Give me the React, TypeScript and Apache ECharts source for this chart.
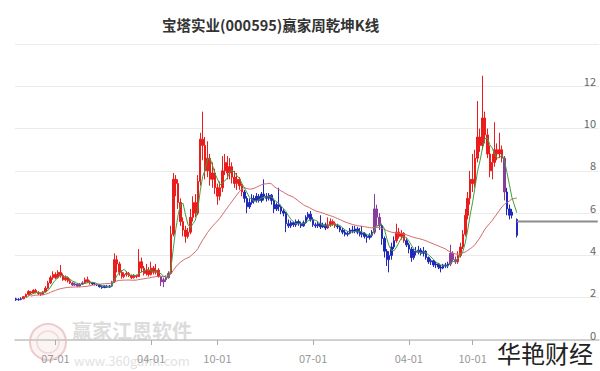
import React, { useEffect, useRef } from "react";
import * as echarts from "echarts";

const TITLE = "宝塔实业(000595)赢家周乾坤K线";
const WATERMARK_CN = "赢家江恩软件";
const WATERMARK_URL = "www.360gann.com";
const CORNER_TEXT = "华艳财经";

// weekly categories
const START_DATE = "2021-03-12";
const WEEK_COUNT = 238;
const xTickDates = ["2021-07-01", "2022-04-01", "2022-10-01", "2023-07-01", "2024-04-01", "2024-10-01"];
const Y_MIN = 0;
const Y_MAX = 14;
const Y_STEP = 2;

// [open, close, low, high] per week (null = no trading week)
const ohlc: (number[] | null)[] = [
  [1.95, 1.9, 1.85, 2.0], [1.9, 1.92, 1.86, 1.98], [1.92, 1.95, 1.88, 2.02],
  [1.95, 2.05, 1.93, 2.08], [2.05, 2.15, 2.02, 2.2], [2.15, 2.3, 2.1, 2.35], [2.28, 2.22, 2.15, 2.32],
  [2.22, 2.35, 2.18, 2.4], [2.35, 2.25, 2.2, 2.42], [2.25, 2.2, 2.12, 2.3], [2.2, 2.15, 2.08, 2.25],
  [2.15, 2.28, 2.12, 2.32], [2.28, 2.45, 2.25, 2.55], [2.45, 2.7, 2.4, 2.8], [2.7, 2.95, 2.65, 3.05],
  [2.95, 3.1, 2.85, 3.25], [3.1, 2.95, 2.88, 3.2], [2.95, 3.2, 2.9, 3.3], [3.2, 3.05, 2.95, 3.55],
  [3.05, 2.85, 2.8, 3.15], [2.85, 2.95, 2.78, 3.05], [2.95, 2.8, 2.72, 3.0], [2.8, 2.7, 2.65, 2.88],
  [2.7, 2.6, 2.55, 2.75], [2.6, 2.65, 2.55, 2.72], [2.65, 2.55, 2.5, 2.7], [2.55, 2.65, 2.5, 2.7],
  [2.65, 2.7, 2.6, 2.78], [2.7, 2.85, 2.65, 2.95], [2.85, 2.75, 2.7, 3.0], [2.75, 2.7, 2.62, 2.82],
  [2.7, 2.65, 2.6, 2.72], [2.65, 2.62, 2.58, 2.7], [2.62, 2.6, 2.55, 2.66], [2.6, 2.52, 2.48, 2.63],
  [2.52, 2.48, 2.42, 2.56], [2.48, 2.55, 2.45, 2.58], [2.55, 2.5, 2.46, 2.6], [2.5, 2.55, 2.48, 2.6],
  [2.55, 2.75, 2.5, 2.8], [2.75, 3.8, 2.7, 4.1], [3.8, 3.6, 3.2, 4.0], [3.6, 3.2, 3.05, 3.7],
  [3.2, 3.0, 2.9, 3.3], [3.0, 3.1, 2.92, 3.2], [3.1, 3.15, 3.0, 3.25], [3.15, 3.05, 2.98, 3.22],
  [3.05, 2.95, 2.88, 3.1], [2.95, 3.05, 2.9, 3.12], [3.05, 3.0, 2.92, 3.1], [3.0, 3.7, 2.98, 4.3],
  [3.7, 3.4, 3.2, 3.9], [3.4, 3.15, 3.05, 3.5], [3.15, 3.3, 3.05, 3.6], [3.3, 3.1, 3.0, 3.45],
  [3.1, 3.4, 3.05, 3.7], [3.4, 3.2, 3.1, 3.5], [3.2, 3.3, 3.1, 3.6], [3.3, 3.0, 2.95, 3.4],
  [3.0, 2.75, 2.55, 3.05], [2.75, 2.85, 2.5, 2.95], [2.85, 2.95, 2.75, 3.05], [2.95, 3.15, 2.9, 3.25],
  [3.15, 5.0, 3.1, 5.4], [5.0, 7.6, 4.9, 7.9], [7.6, 7.4, 6.8, 7.8], [7.4, 6.5, 6.2, 7.6],
  [6.5, 5.6, 5.4, 6.7], [5.6, 5.2, 4.9, 5.8], [5.2, 4.9, 4.6, 5.4], [4.9, 5.1, 4.8, 5.3],
  [5.1, 5.8, 5.0, 6.2], [5.8, 6.5, 5.6, 6.8], [6.5, 6.0, 5.8, 6.9], [6.0, 7.5, 5.9, 7.8],
  [7.5, 9.5, 7.3, 9.8], [9.5, 9.2, 8.5, 10.8], [9.2, 8.0, 7.6, 9.6], [8.0, 8.6, 7.7, 9.4],
  [8.6, 7.6, 7.3, 8.8], [7.6, 7.9, 7.2, 8.4], [7.9, 7.2, 6.9, 8.1], [7.2, 6.8, 6.4, 7.4],
  [6.8, 7.2, 6.6, 7.5], [7.2, 8.0, 7.0, 8.7], [8.0, 8.4, 7.8, 8.8], [8.4, 7.9, 7.6, 8.7],
  [7.9, 8.2, 7.6, 8.6], [8.2, 7.7, 7.4, 8.4], [7.7, 7.4, 7.2, 8.0], [7.4, 7.6, 7.1, 7.9],
  [7.6, 7.3, 7.1, 7.7], [7.3, 7.0, 6.8, 7.4], [7.0, 6.7, 6.5, 7.1], [6.7, 6.3, 6.0, 6.8],
  [6.3, 6.5, 6.2, 6.7], [6.5, 6.7, 6.4, 6.9], [6.7, 6.6, 6.45, 6.85], [6.6, 6.8, 6.5, 6.95],
  [6.8, 6.6, 6.5, 6.9], [6.6, 6.9, 6.5, 7.0], [6.9, 6.8, 6.6, 7.6], [6.8, 6.7, 6.55, 6.95],
  [6.7, 6.85, 6.6, 6.95], [6.85, 6.6, 6.4, 6.9], [6.6, 6.2, 6.0, 6.7], [6.2, 6.4, 6.1, 6.5],
  [6.4, 6.3, 6.1, 7.2], [6.3, 6.1, 5.95, 6.4], [6.1, 6.0, 5.85, 6.2], [6.0, 5.5, 5.1, 6.05],
  [5.5, 5.4, 5.3, 5.7], [5.4, 5.55, 5.3, 5.65], [5.55, 5.45, 5.35, 5.6], [5.45, 5.6, 5.35, 5.7],
  [5.6, 5.5, 5.4, 5.7], [5.5, 5.4, 5.3, 5.6], [5.4, 5.55, 5.35, 5.65], [5.55, 5.8, 5.5, 5.9],
  [5.8, 5.95, 5.7, 6.05], [5.95, 5.7, 5.6, 6.1], [5.7, 5.45, 5.35, 5.8], [5.45, 5.4, 5.3, 5.55],
  [5.4, 5.5, 5.3, 5.6], [5.5, 5.35, 5.25, 5.9], [5.35, 5.45, 5.3, 5.55], [5.45, 5.3, 5.2, 5.55],
  [5.3, 5.45, 5.25, 5.8], [5.45, 5.6, 5.35, 5.75], [5.6, 5.5, 5.4, 5.7], [5.5, 5.4, 5.3, 5.6],
  [5.4, 5.35, 5.25, 5.5], [5.35, 5.2, 5.1, 5.4], [5.2, 5.1, 5.0, 5.3], [5.1, 5.0, 4.9, 5.2],
  [5.0, 5.05, 4.9, 5.15], [5.05, 5.2, 5.0, 5.3], [5.2, 5.15, 5.05, 5.4], [5.15, 5.25, 5.05, 5.4],
  [5.25, 5.1, 5.0, 5.35], [5.1, 5.0, 4.9, 5.3], [5.0, 5.05, 4.85, 5.4], [5.05, 4.9, 4.8, 5.1],
  [4.9, 4.85, 4.6, 5.0], [4.85, 4.95, 4.75, 5.05], [4.95, 5.1, 4.85, 5.2],
  [5.1, 6.2, 5.0, 6.9], [6.2, 5.8, 5.4, 6.4], [5.8, 5.4, 5.2, 6.0],
  [5.4, 4.8, 4.5, 5.5], [4.8, 4.2, 3.9, 4.9], [4.2, 3.8, 3.5, 4.3], [3.8, 4.0, 3.2, 4.2],
  [4.0, 4.4, 3.8, 4.6], [4.4, 4.7, 4.3, 4.9],
  [4.7, 5.1, 4.6, 5.5], [5.1, 4.9, 4.8, 5.3], [4.9, 5.05, 4.75, 5.2], [5.05, 4.7, 4.6, 5.1],
  [4.7, 4.5, 4.4, 4.8], [4.5, 4.3, 4.1, 4.6], [4.3, 3.9, 3.7, 4.4], [3.9, 4.2, 3.8, 4.3],
  [4.2, 4.15, 4.0, 4.4], [4.15, 4.25, 4.05, 4.45], [4.25, 4.1, 4.0, 4.35], [4.1, 4.2, 3.95, 4.4],
  [4.2, 3.9, 3.8, 4.25], [3.9, 3.7, 3.6, 3.95], [3.7, 3.75, 3.55, 3.85], [3.75, 3.55, 3.45, 3.8],
  [3.55, 3.6, 3.4, 3.7], [3.6, 3.45, 3.35, 3.65], [3.45, 3.4, 3.2, 3.55], [3.4, 3.55, 3.35, 3.6],
  [3.55, 3.5, 3.4, 3.65], [3.5, 3.6, 3.4, 3.7],
  [3.6, 4.1, 3.5, 4.5], [4.1, 3.8, 3.7, 4.2], [3.8, 3.7, 3.6, 3.95],
  [3.7, 4.0, 3.6, 4.2], [4.0, 4.4, 3.9, 4.6], [4.4, 5.0, 4.3, 5.2], [5.0, 5.9, 4.9, 6.2],
  [5.9, 6.7, 5.7, 7.0], [6.7, 7.6, 6.4, 8.0], [7.6, 7.4, 7.0, 8.8], [7.4, 8.6, 7.2, 9.0],
  [8.6, 9.6, 8.4, 11.3], [9.6, 9.2, 8.9, 10.0], [9.2, 10.5, 9.0, 12.5], [10.5, 9.7, 9.3, 10.8],
  [9.7, 8.8, 8.6, 10.0], [8.8, 8.0, 7.7, 9.2], [8.0, 8.4, 7.6, 8.8], [8.4, 9.0, 8.2, 10.3],
  [9.0, 8.8, 8.5, 9.3], [8.8, 9.0, 8.6, 9.8], [9.0, 8.6, 8.4, 9.2],
  [8.6, 7.0, 6.6, 8.7],
  [7.0, 6.2, 5.9, 7.2], [6.2, 5.9, 5.7, 6.4], [5.9, 6.05, 5.75, 6.2], null, [5.7, 4.95, 4.85, 5.75],
];

// trend state per stretch of weeks: [first index, state]
const trendSegments: [number, string][] = [
  [0, "down"], [3, "up"], [23, "mid"], [28, "up"], [31, "down"], [39, "mid"], [40, "up"],
  [59, "mid"], [63, "up"], [93, "down"], [127, "up"], [131, "down"], [146, "mid"], [149, "down"],
  [155, "up"], [159, "down"], [177, "mid"], [180, "up"], [199, "mid"], [200, "down"],
];

const MA_SHORT = 5;
const MA_LONG = 30;
const MA_LONG_FIRST = 6;
const LAST_LINE_VALUE = 5.6;
const LAST_LINE_FROM = 204;

const trendColors: Record<string, string> = { up: "#ea1c1c", down: "#1f28b8", mid: "#8a3c9c" };

function buildCategories(): string[] {
  const out: string[] = [];
  const d0 = new Date(START_DATE + "T00:00:00Z").getTime();
  for (let i = 0; i < WEEK_COUNT; i++) {
    out.push(new Date(d0 + i * 7 * 86400000).toISOString().slice(0, 10));
  }
  return out;
}

function trendAt(i: number): string {
  let s = trendSegments[0][1];
  for (const [start, st] of trendSegments) if (i >= start) s = st;
  return s;
}

function movingAverage(n: number, firstIndex: number): (number | string)[] {
  const closes: number[] = [];
  const out: (number | string)[] = [];
  ohlc.forEach((v, i) => {
    if (!v) {
      out.push("-");
      return;
    }
    closes.push(v[1]);
    if (i < firstIndex) {
      out.push("-");
      return;
    }
    const win = closes.slice(-n);
    out.push(+(win.reduce((a, b) => a + b, 0) / win.length).toFixed(3));
  });
  return out;
}

export default function App() {
  const ref = useRef<HTMLDivElement>(null);
  useEffect(() => {
    document.body.style.margin = "0";
    if (!ref.current) return;
    const chart = echarts.init(ref.current, undefined, { renderer: "svg" });
    const categories = buildCategories();
    const labelMap: Record<number, string> = {};
    xTickDates.forEach((t) => {
      const idx = categories.findIndex((c) => c >= t);
      if (idx >= 0) labelMap[idx] = t.slice(5);
    });
    const showIdx = (i: number) => labelMap[i] !== undefined;

    const candleData = ohlc.map((v, i) => {
      if (!v) return "-";
      const c = trendColors[trendAt(i)];
      return { value: v, itemStyle: { color: c, color0: c, borderColor: c, borderColor0: c } };
    });
    const maShort = movingAverage(MA_SHORT, MA_SHORT - 1);
    const maLong = movingAverage(MA_LONG, MA_LONG_FIRST);
    const lastLine = categories.map((_, i) => (i >= LAST_LINE_FROM ? LAST_LINE_VALUE : "-"));

    const font = "'Noto Sans CJK SC', 'Noto Sans', sans-serif";

    chart.setOption({
      animation: false,
      textStyle: { fontFamily: font },
      title: {
        text: TITLE,
        left: 157,
        top: 12,
        textStyle: { fontSize: 14.5, fontWeight: "bold", color: "#333", fontFamily: font },
      },
      grid: { left: 15, right: 1, top: 44, bottom: 31 },
      xAxis: {
        type: "category",
        data: categories,
        boundaryGap: true,
        axisLine: { lineStyle: { color: "#c4c4c4", width: 1.5 } },
        axisTick: {
          show: true,
          interval: (i: number) => showIdx(i),
          alignWithLabel: true,
          length: 5,
          lineStyle: { color: "#aaa" },
        },
        axisLabel: {
          interval: (i: number) => showIdx(i),
          formatter: (_v: string, i: number) => labelMap[i] ?? "",
          color: "#999",
          fontSize: 11,
          margin: 12,
        },
        splitLine: { show: false },
      },
      yAxis: {
        type: "value",
        position: "right",
        min: Y_MIN,
        max: Y_MAX,
        interval: Y_STEP,
        axisLine: { show: false },
        axisTick: { show: false },
        axisLabel: {
          inside: true,
          showMaxLabel: false,
          verticalAlign: "bottom",
          margin: 3,
          color: "#666",
          fontSize: 11,
        },
        splitLine: { lineStyle: { color: "#ebebeb", width: 1 } },
      },
      series: [
        {
          type: "candlestick",
          data: candleData,
          barWidth: "80%",
          z: 2,
        },
        {
          type: "line",
          data: maLong,
          symbol: "none",
          connectNulls: true,
          lineStyle: { color: "#d26a6a", width: 1 },
          z: 3,
        },
        {
          type: "line",
          data: maShort,
          symbol: "none",
          connectNulls: true,
          lineStyle: { color: "#3f9f3f", width: 1 },
          z: 4,
        },
        {
          type: "line",
          data: lastLine,
          symbol: "none",
          lineStyle: { color: "#8c8c8c", width: 2 },
          z: 4,
        },
      ],
      graphic: [
        {
          type: "circle",
          shape: { cx: 48, cy: 342, r: 18 },
          style: { fill: "rgba(236,190,190,0.18)", stroke: "#efcaca", lineWidth: 2 },
          z: 0,
        },
        {
          type: "circle",
          shape: { cx: 48, cy: 342, r: 11 },
          style: { fill: "none", stroke: "#f2d6d6", lineWidth: 1.5 },
          z: 0,
        },
        {
          type: "text",
          x: 72,
          y: 330,
          style: {
            text: WATERMARK_CN,
            fill: "#dcdcdc",
            fontSize: 20,
            fontWeight: "bold",
            fontFamily: font,
            textVerticalAlign: "middle",
          },
          z: 0,
        },
        {
          type: "text",
          x: 74,
          y: 360,
          style: {
            text: WATERMARK_URL,
            fill: "#e2e2e2",
            fontSize: 13,
            fontFamily: font,
            textVerticalAlign: "middle",
          },
          z: 0,
        },
        {
          type: "text",
          x: 497,
          y: 352,
          style: {
            text: CORNER_TEXT,
            fill: "#222",
            fontSize: 24,
            fontFamily: font,
            textVerticalAlign: "middle",
          },
          z: 100,
        },
      ],
    });
    return () => chart.dispose();
  }, []);
  return <div ref={ref} style={{ width: 600, height: 371 }} />;
}
